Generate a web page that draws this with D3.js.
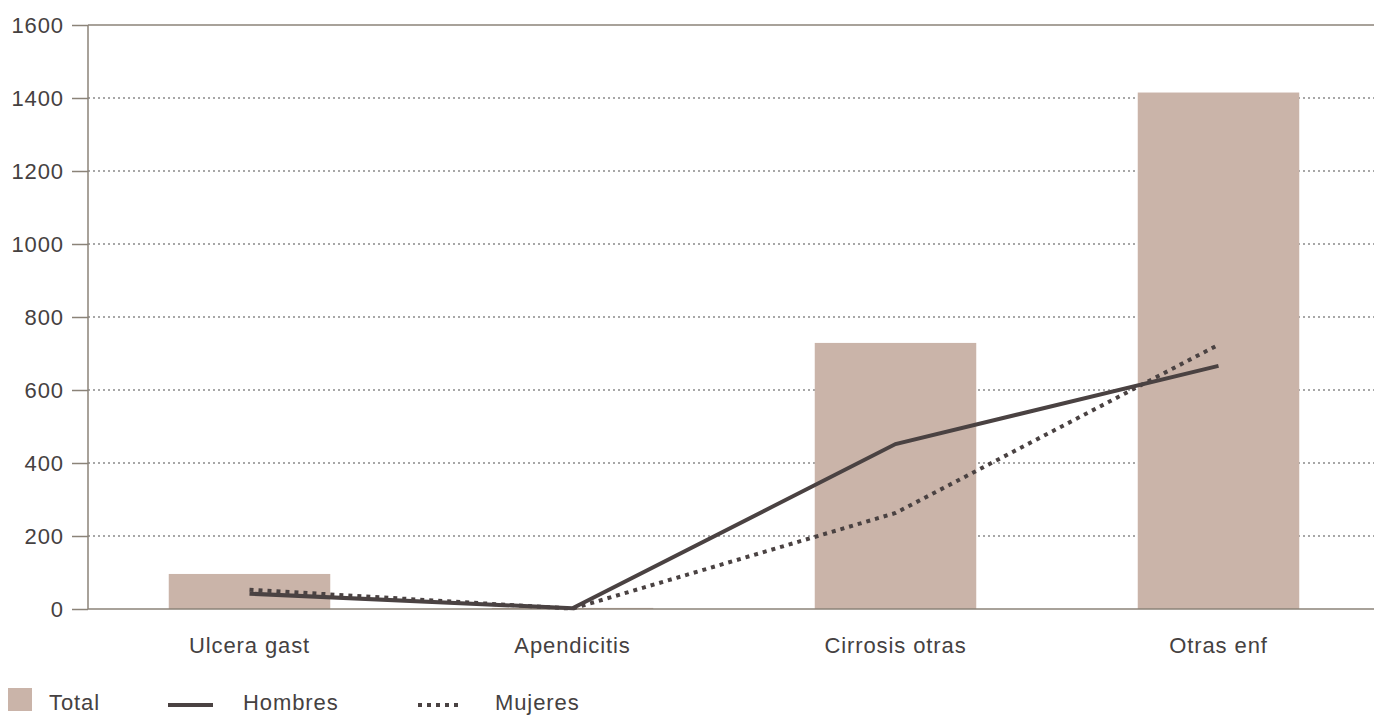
<!DOCTYPE html>
<html><head><meta charset="utf-8">
<script src="https://cdn.jsdelivr.net/npm/d3@7"></script>
<style>body{margin:0;background:#fff}svg{display:block}text{font-family:"Liberation Sans",Arial,sans-serif}</style>
</head><body><svg id="c" width="1374" height="717"></svg>
<script>
const categories=["Ulcera gast","Apendicitis","Cirrosis otras","Otras enf"];
const total=[96,3,729,1415];
const hombres=[42,2,452,666];
const mujeres=[53,1,263,724];
const yTicks=[0,200,400,600,800,1000,1200,1400,1600];

const svg=d3.select("#c");
const x=d3.scaleBand().domain(categories).range([88,1380]).paddingInner(0.5).paddingOuter(0.25);
const y=d3.scaleLinear().domain([0,1600]).range([609,25]);
const axisCol="#8b8378", textCol="#454141";
const fs=22, ls=0.9;

// gridlines
svg.append("g").selectAll("line").data(yTicks.filter(d=>d>0&&d<1600)).join("line")
 .attr("x1",88).attr("x2",1374).attr("y1",d=>y(d)).attr("y2",d=>y(d))
 .attr("stroke","#8a8a8a").attr("stroke-width",1.3).attr("stroke-dasharray","2,3");
// top line
svg.append("line").attr("x1",88).attr("x2",1374).attr("y1",y(1600)).attr("y2",y(1600)).attr("stroke",axisCol).attr("stroke-width",1.5);
// bars
svg.append("g").selectAll("rect").data(categories).join("rect")
 .attr("x",d=>x(d)).attr("width",x.bandwidth())
 .attr("y",(d,i)=>y(total[i])).attr("height",(d,i)=>y(0)-y(total[i]))
 .attr("fill","#cab4a9");
// y axis
const ya=d3.axisLeft(y).tickValues(yTicks).tickSize(16).tickPadding(8).tickFormat(d3.format("d"));
const gy=svg.append("g").attr("transform","translate(88,0)").call(ya);
gy.select(".domain").attr("stroke",axisCol).attr("stroke-width",1.5).attr("d","M0,"+y(1600)+"V"+y(0));
gy.selectAll(".tick line").attr("stroke",axisCol).attr("stroke-width",1.5);
gy.selectAll(".tick text").attr("fill",textCol).attr("font-size",fs).attr("letter-spacing",ls).attr("font-family","Liberation Sans, Arial, sans-serif");
// x axis baseline
svg.append("line").attr("x1",88).attr("x2",1374).attr("y1",y(0)).attr("y2",y(0)).attr("stroke",axisCol).attr("stroke-width",1.5);
// category labels
svg.append("g").selectAll("text").data(categories).join("text")
 .attr("x",d=>x(d)+x.bandwidth()/2).attr("y",653).attr("text-anchor","middle")
 .attr("font-size",fs).attr("letter-spacing",ls).attr("fill",textCol).text(d=>d);
// lines
const cx=d=>x(d)+x.bandwidth()/2;
const lineGen=vals=>d3.line().x((d,i)=>cx(categories[i])).y((d,i)=>y(vals[i]))(vals);
svg.append("path").attr("d",lineGen(mujeres)).attr("fill","none").attr("stroke","#4a4242").attr("stroke-width",4).attr("stroke-dasharray","4,5");
svg.append("path").attr("d",lineGen(hombres)).attr("fill","none").attr("stroke","#4a4242").attr("stroke-width",4);
// legend
const lg=svg.append("g");
lg.append("rect").attr("x",8).attr("y",688).attr("width",24).attr("height",23).attr("fill","#cab4a9");
lg.append("text").attr("x",49).attr("y",710).attr("font-size",fs).attr("letter-spacing",ls).attr("fill",textCol).text("Total");
lg.append("line").attr("x1",168).attr("x2",213).attr("y1",705).attr("y2",705).attr("stroke","#4a4242").attr("stroke-width",4);
lg.append("text").attr("x",243).attr("y",710).attr("font-size",fs).attr("letter-spacing",ls).attr("fill",textCol).text("Hombres");
lg.append("line").attr("x1",418).attr("x2",460).attr("y1",705).attr("y2",705).attr("stroke","#4a4242").attr("stroke-width",4).attr("stroke-dasharray","4,5");
lg.append("text").attr("x",495).attr("y",710).attr("font-size",fs).attr("letter-spacing",ls).attr("fill",textCol).text("Mujeres");
</script></body></html>
